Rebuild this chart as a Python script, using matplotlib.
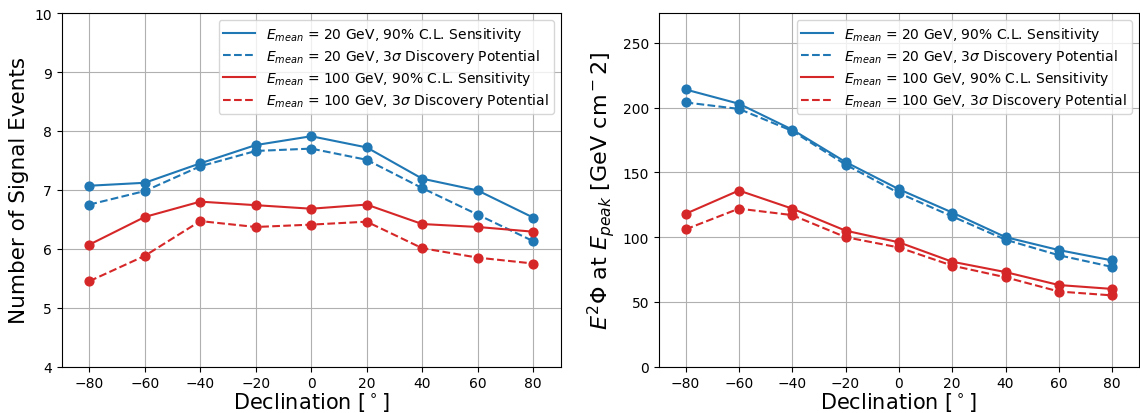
import numpy as np
from matplotlib import pyplot as plt

dec = [-80, -60, -40, -20, 0, 20, 40, 60, 80]

# number of signal events
n_sens_20 = [7.07, 7.12, 7.45, 7.76, 7.91, 7.72, 7.19, 6.99, 6.53]
n_disc_20 = [6.75, 6.98, 7.40, 7.66, 7.70, 7.51, 7.03, 6.58, 6.13]
n_sens_100 = [6.07, 6.54, 6.80, 6.74, 6.68, 6.75, 6.42, 6.37, 6.29]
n_disc_100 = [5.45, 5.88, 6.47, 6.37, 6.41, 6.46, 6.01, 5.85, 5.75]

# E^2 Phi at E_peak
f_sens_20 = [214, 203, 183, 158, 137, 119, 100, 90, 82]
f_disc_20 = [204, 199, 182, 156, 134, 116, 98, 86, 77]
f_sens_100 = [118, 136, 122, 105, 96, 81, 73, 63, 60]
f_disc_100 = [106, 122, 117, 100, 92, 78, 69, 58, 55]

labels = [r'$E_{mean}$ = 20 GeV, 90% C.L. Sensitivity',
          r'$E_{mean}$ = 20 GeV, 3$\sigma$ Discovery Potential',
          r'$E_{mean}$ = 100 GeV, 90% C.L. Sensitivity',
          r'$E_{mean}$ = 100 GeV, 3$\sigma$ Discovery Potential']

blue = '#1f77b4'
red = '#d62728'

fig = plt.figure(figsize=(11.4, 4.14), dpi=100)
ax1 = fig.add_axes([0.054, 0.112, 0.438, 0.854])
ax2 = fig.add_axes([0.578, 0.112, 0.421, 0.854])

def draw(ax, series):
    styles = [(blue, '-'), (blue, '--'), (red, '-'), (red, '--')]
    for (c, ls), y, lab in zip(styles, series, labels):
        ax.plot(dec, y, color=c, linestyle=ls, linewidth=1.5, label=lab)
        ax.scatter(dec, y, color=c, s=40, zorder=3)
    ax.grid(True, color='#b0b0b0', linewidth=0.8)
    ax.set_axisbelow(True)
    ax.set_xlim(-90, 90)
    ax.set_xticks(dec)
    ax.tick_params(labelsize=10)
    ax.set_xlabel(r'Declination [$^\circ$]', fontsize=15, labelpad=0)
    ax.legend(loc='upper right', fontsize=10, framealpha=0.8,
              handlelength=2.3, borderpad=0.35, labelspacing=0.3)

draw(ax1, [n_sens_20, n_disc_20, n_sens_100, n_disc_100])
ax1.set_ylim(4, 10)
ax1.set_ylabel('Number of Signal Events', fontsize=15.5)

draw(ax2, [f_sens_20, f_disc_20, f_sens_100, f_disc_100])
ax2.set_ylim(0, 273)
ax2.set_ylabel(r'$E^2\Phi$ at $E_{peak}$ [GeV cm$^-2$]', fontsize=16)

plt.savefig('out.png', dpi=100)
